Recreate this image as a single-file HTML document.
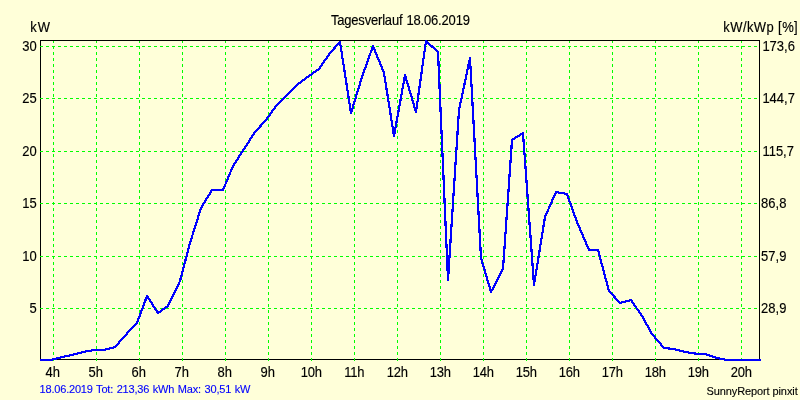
<!DOCTYPE html>
<html lang="de"><head><meta charset="utf-8"><title>Tagesverlauf 18.06.2019</title>
<style>
html,body{margin:0;padding:0;background:#ffffd9;}
body{width:800px;height:400px;overflow:hidden;}
svg{display:block;font-family:"Liberation Sans",Arial,Helvetica,sans-serif;}
.t13{font-size:13px;fill:#000;stroke:#000;stroke-width:0.15px;}
.t11{font-size:11px;fill:#000;stroke:#000;stroke-width:0.12px;}
.t11b{font-size:11px;fill:#0000ff;stroke:#0000ff;stroke-width:0.12px;}
</style></head><body>
<svg width="800" height="400" viewBox="0 0 800 400">
<rect x="0" y="0" width="800" height="400" fill="#ffffd9"/>
<g shape-rendering="crispEdges" fill="none">
<path d="M40.5 40V360M40 359.5H760" stroke="#000" stroke-width="1"/>
<g stroke="#00ff00" stroke-width="1" stroke-dasharray="3 3">
<path d="M40 46.5H759"/>
<path d="M40 98.5H759"/>
<path d="M40 151.5H759"/>
<path d="M40 203.5H759"/>
<path d="M40 256.5H759"/>
<path d="M40 308.5H759"/>
<path d="M53.5 40V361"/>
<path d="M96.5 40V361"/>
<path d="M139.5 40V361"/>
<path d="M182.5 40V361"/>
<path d="M225.5 40V361"/>
<path d="M268.5 40V361"/>
<path d="M311.5 40V361"/>
<path d="M354.5 40V361"/>
<path d="M397.5 40V361"/>
<path d="M440.5 40V361"/>
<path d="M483.5 40V361"/>
<path d="M526.5 40V361"/>
<path d="M569.5 40V361"/>
<path d="M612.5 40V361"/>
<path d="M655.5 40V361"/>
<path d="M698.5 40V361"/>
<path d="M741.5 40V361"/>
</g>
<path d="M40 40.5H760M759.5 40V360" stroke="#000" stroke-width="1"/>
</g>
<polyline points="40,360 51,360 62,357 72,355 83,352 94,350 104,350 115,347 131,329 137,323 147,296 158,313 168,306 180,281 190,243 201,208 212,190 223,190 233,166 244,149 255,132 266,120 276,106 287,95 298,84 309,76 319,69 330,53 340,42 351,113 362,77 373,46 384,73 394,136 405,75 416,112 426,41 438,52 448,280 459,110 470,58 481,258 491,292 503,269 512,140 523,133 534,285 545,217 556,192 567,194 577,222 589,250 598,250 609,291 620,303 631,300 642,316 652,334 664,348 674,349 685,352 698,354 705,354 717,358 727,360 738,360 749,360 761,360" fill="none" stroke="#0000ff" stroke-width="2.2" stroke-linejoin="round" shape-rendering="crispEdges"/>
<text class="t13" transform="translate(330.9 25) scale(1 1.075)" letter-spacing="-0.18">Tagesverlauf <tspan dx="0.7">18.06.2019</tspan></text>
<text class="t13" transform="translate(30.3 32) scale(1 1.075)" letter-spacing="1">kW</text>
<text class="t13" transform="translate(798.1 32) scale(1 1.075)" text-anchor="end" letter-spacing="0.4">kW/kWp [%]</text>
<text class="t13" transform="translate(36.7 51) scale(1 1.075)" text-anchor="end">30</text>
<text class="t13" transform="translate(36.7 103) scale(1 1.075)" text-anchor="end">25</text>
<text class="t13" transform="translate(36.7 156) scale(1 1.075)" text-anchor="end">20</text>
<text class="t13" transform="translate(36.7 208) scale(1 1.075)" text-anchor="end">15</text>
<text class="t13" transform="translate(36.7 261) scale(1 1.075)" text-anchor="end">10</text>
<text class="t13" transform="translate(36.7 313) scale(1 1.075)" text-anchor="end">5</text>
<text class="t13" transform="translate(762.4 51) scale(1 1.075)">173,6</text>
<text class="t13" transform="translate(762.4 103) scale(1 1.075)">144,7</text>
<text class="t13" transform="translate(762.4 156) scale(1 1.075)">115,7</text>
<text class="t13" transform="translate(761.1 208) scale(1 1.075)">86,8</text>
<text class="t13" transform="translate(761.1 261) scale(1 1.075)">57,9</text>
<text class="t13" transform="translate(761.1 313) scale(1 1.075)">28,9</text>
<text class="t13" transform="translate(52.8 377) scale(1 1.075)" text-anchor="middle">4h</text>
<text class="t13" transform="translate(95.8 377) scale(1 1.075)" text-anchor="middle">5h</text>
<text class="t13" transform="translate(138.8 377) scale(1 1.075)" text-anchor="middle">6h</text>
<text class="t13" transform="translate(181.8 377) scale(1 1.075)" text-anchor="middle">7h</text>
<text class="t13" transform="translate(224.8 377) scale(1 1.075)" text-anchor="middle">8h</text>
<text class="t13" transform="translate(267.8 377) scale(1 1.075)" text-anchor="middle">9h</text>
<text class="t13" transform="translate(311.2 377) scale(1 1.075)" text-anchor="middle" letter-spacing="-0.25">10h</text>
<text class="t13" transform="translate(354.2 377) scale(1 1.075)" text-anchor="middle" letter-spacing="-0.25">11h</text>
<text class="t13" transform="translate(397.2 377) scale(1 1.075)" text-anchor="middle" letter-spacing="-0.25">12h</text>
<text class="t13" transform="translate(440.2 377) scale(1 1.075)" text-anchor="middle" letter-spacing="-0.25">13h</text>
<text class="t13" transform="translate(483.2 377) scale(1 1.075)" text-anchor="middle" letter-spacing="-0.25">14h</text>
<text class="t13" transform="translate(526.2 377) scale(1 1.075)" text-anchor="middle" letter-spacing="-0.25">15h</text>
<text class="t13" transform="translate(569.2 377) scale(1 1.075)" text-anchor="middle" letter-spacing="-0.25">16h</text>
<text class="t13" transform="translate(612.2 377) scale(1 1.075)" text-anchor="middle" letter-spacing="-0.25">17h</text>
<text class="t13" transform="translate(655.2 377) scale(1 1.075)" text-anchor="middle" letter-spacing="-0.25">18h</text>
<text class="t13" transform="translate(698.2 377) scale(1 1.075)" text-anchor="middle" letter-spacing="-0.25">19h</text>
<text class="t13" transform="translate(741.2 377) scale(1 1.075)" text-anchor="middle" letter-spacing="-0.25">20h</text>
<text class="t11b" transform="translate(39.6 393)" letter-spacing="-0.2" word-spacing="0.8">18.06.2019 Tot: 213,36 kWh Max: 30,51 kW</text>
<text class="t11" transform="translate(797.6 395)" text-anchor="end" letter-spacing="-0.1">SunnyReport pinxit</text>
</svg></body></html>
